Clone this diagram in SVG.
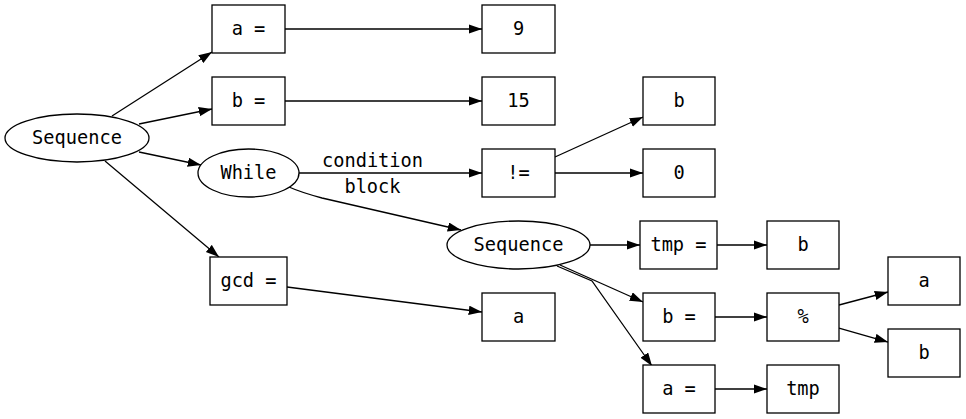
<svg xmlns="http://www.w3.org/2000/svg" width="966" height="419" viewBox="0 0 966 419">
<style>
.n{fill:#fff;stroke:#000;stroke-width:1.3}
.t{font-family:"DejaVu Sans Mono",monospace;font-size:18.67px;text-anchor:middle;fill:#000}
.e{fill:none;stroke:#000;stroke-width:1.3;marker-end:url(#ah)}
</style>
<defs>
<marker id="ah" markerUnits="userSpaceOnUse" markerWidth="14" markerHeight="10" refX="13.3" refY="4.67" orient="auto">
<path d="M0,0 L13.3,4.67 L0,9.33 z" fill="#000"/>
</marker>
</defs>
<rect width="966" height="419" fill="#fff"/>
<g id="connectors">
<path class="e" d="M112,116 L212,52"/>
<path class="e" d="M139,124 L212,109"/>
<path class="e" d="M139,152 L201,165"/>
<path class="e" d="M105,161 L219,257"/>
<path class="e" d="M285,29 L482,29"/>
<path class="e" d="M285,101 L482,101"/>
<path class="e" d="M299,173 L482,173"/>
<path class="e" d="M289,187 C300,192 311,195 322,198 L461,230"/>
<path class="e" d="M555,157 L643,117"/>
<path class="e" d="M555,173 L643,173"/>
<path class="e" d="M287,287 L482,312"/>
<path class="e" d="M590,245 L640,245"/>
<path class="e" d="M560,265 L643,302"/>
<path class="e" d="M557,266 L592,281 L652,366"/>
<path class="e" d="M717,245 L767,245"/>
<path class="e" d="M715,317 L767,317"/>
<path class="e" d="M715,389 L767,389"/>
<path class="e" d="M839,305 L888,292"/>
<path class="e" d="M839,328 L888,342"/>
<text class="t" x="372.5" y="167">condition</text>
<text class="t" x="372.5" y="193">block</text>
</g>
<g id="seq1"><ellipse class="n" cx="77" cy="138" rx="72" ry="24"/><text class="t" x="77" y="143.5">Sequence</text></g>
<g id="assign_a"><rect class="n" x="212" y="5" width="73" height="48"/><text class="t" x="248.5" y="34.5">a =</text></g>
<g id="assign_b"><rect class="n" x="212" y="77" width="73" height="48"/><text class="t" x="248.5" y="106.5">b =</text></g>
<g id="while"><ellipse class="n" cx="248.5" cy="173" rx="50.5" ry="24"/><text class="t" x="248.5" y="178.5">While</text></g>
<g id="assign_gcd"><rect class="n" x="210" y="257" width="77" height="48"/><text class="t" x="248.5" y="286.5">gcd =</text></g>
<g id="val9"><rect class="n" x="482" y="5" width="73" height="48"/><text class="t" x="518.5" y="34.5">9</text></g>
<g id="val15"><rect class="n" x="482" y="77" width="73" height="48"/><text class="t" x="518.5" y="106.5">15</text></g>
<g id="neq"><rect class="n" x="482" y="149" width="73" height="48"/><text class="t" x="518.5" y="178.5">!=</text></g>
<g id="neq_b"><rect class="n" x="643" y="77" width="72" height="48"/><text class="t" x="679" y="106.5">b</text></g>
<g id="neq_0"><rect class="n" x="643" y="149" width="72" height="48"/><text class="t" x="679" y="178.5">0</text></g>
<g id="seq2"><ellipse class="n" cx="518.5" cy="245" rx="71.5" ry="24"/><text class="t" x="518.5" y="250.5">Sequence</text></g>
<g id="gcd_a"><rect class="n" x="482" y="293" width="73" height="48"/><text class="t" x="518.5" y="322.5">a</text></g>
<g id="assign_tmp"><rect class="n" x="640" y="221" width="77" height="48"/><text class="t" x="678.5" y="250.5">tmp =</text></g>
<g id="tmp_b"><rect class="n" x="767" y="221" width="72" height="48"/><text class="t" x="803" y="250.5">b</text></g>
<g id="assign_b2"><rect class="n" x="643" y="293" width="72" height="48"/><text class="t" x="679" y="322.5">b =</text></g>
<g id="mod"><rect class="n" x="767" y="293" width="72" height="48"/><text class="t" x="803" y="322.5">%</text></g>
<g id="assign_a2"><rect class="n" x="643" y="365" width="72" height="48"/><text class="t" x="679" y="394.5">a =</text></g>
<g id="val_tmp"><rect class="n" x="767" y="365" width="72" height="48"/><text class="t" x="803" y="394.5">tmp</text></g>
<g id="mod_a"><rect class="n" x="888" y="257" width="72" height="48"/><text class="t" x="924" y="286.5">a</text></g>
<g id="mod_b"><rect class="n" x="888" y="329" width="72" height="48"/><text class="t" x="924" y="358.5">b</text></g>
</svg>
